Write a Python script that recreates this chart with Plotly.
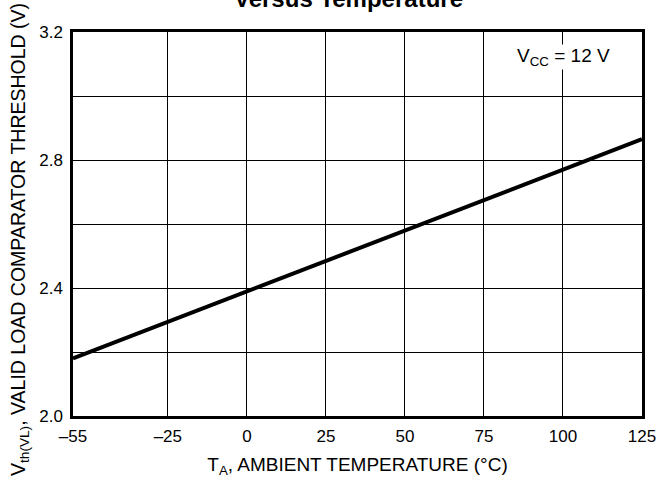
import plotly.graph_objects as go

# Data
temp_c = [-55, 125]
vth_v = [2.18, 2.865]

x_tick_vals = [-55, -25, 0, 25, 50, 75, 100, 125]
x_tick_text = ["\u201355", "\u201325", "0", "25", "50", "75", "100", "125"]
y_tick_vals = [2.0, 2.2, 2.4, 2.6, 2.8, 3.0, 3.2]
y_tick_text = ["2.0", "", "2.4", "", "2.8", "", "3.2"]

FONT = "Liberation Sans, Arial, sans-serif"

fig = go.Figure()
fig.add_trace(go.Scatter(
    x=temp_c, y=vth_v, mode="lines",
    line=dict(color="black", width=4),
    showlegend=False, hoverinfo="skip",
))

fig.update_layout(
    width=666, height=482,
    margin=dict(l=73, r=24, t=32, b=66, autoexpand=False),
    paper_bgcolor="white", plot_bgcolor="white",
    font=dict(family=FONT, size=17, color="black"),
    xaxis=dict(
        range=[-55, 125], tickvals=x_tick_vals, ticktext=x_tick_text,
        showgrid=True, gridcolor="black", gridwidth=1,
        showline=True, linecolor="black", linewidth=2.5, mirror=True,
        ticks="", zeroline=False, ticklabelstandoff=3, automargin=False,
        title=dict(text="T<sub>A</sub>, AMBIENT TEMPERATURE (\u00b0C)", standoff=13,
                   font=dict(size=19)),
        tickfont=dict(size=17),
    ),
    yaxis=dict(
        range=[2.0, 3.2], tickvals=y_tick_vals, ticktext=y_tick_text,
        showgrid=True, gridcolor="black", gridwidth=1,
        showline=True, linecolor="black", linewidth=2.5, mirror=True,
        ticks="", zeroline=False, automargin=False, ticklabelstandoff=4,
        tickfont=dict(size=17),
    ),
    annotations=[
        dict(text="V<sub>th(VL)</sub>, VALID LOAD COMPARATOR THRESHOLD (V)",
             xref="paper", yref="paper", x=(19 - 73) / 569, y=(416 - 240) / 384,
             xanchor="center", yanchor="middle", textangle=-90, showarrow=False,
             font=dict(size=19.5)),
        dict(text="V<sub>CC</sub> = 12 V", xref="paper", yref="paper",
             x=0.945, y=0.97, xanchor="right", yanchor="top", showarrow=False,
             bgcolor="white", font=dict(size=19), borderpad=0),
        dict(text="<b>Versus Temperature</b>", xref="paper", yref="paper",
             x=0.485, y=1.0 + 18 / 384, xanchor="center", yanchor="bottom",
             showarrow=False, font=dict(size=24)),
    ],
)

fig.write_html("out.html", config={"displayModeBar": False},
               post_script="document.body.style.margin='0px';")
